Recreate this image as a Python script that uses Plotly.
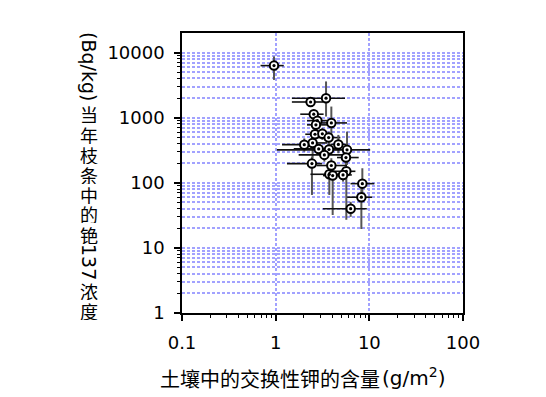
import plotly.graph_objects as go

# Exchangeable K in soil (g/m2) and Cs-137 in current-year shoots (Bq/kg)
x_vals = [0.96, 3.45, 2.36, 2.55, 2.79, 3.93, 2.69, 2.63, 3.15, 3.68, 2.48, 2.02, 4.67, 2.88,
          3.71, 5.78, 3.31, 5.63, 2.44, 3.93, 5.68, 3.74, 5.24, 4.06, 8.42, 8.22, 6.32]
y_vals = [6300, 1990, 1740, 1130, 900, 830, 775, 556, 565, 494, 409, 385, 388, 331,
          324, 320, 268, 244, 197, 184, 150, 135, 132, 129, 97, 60, 40]
x_low = [0.69, 1.49, 1.49, 1.83, 2.16, 2.88, 2.16, 2.07, 2.54, 2.76, 1.83, 1.17, 3.83, 1.56,
         2.76, 1.03, 1.76, 4.52, 1.32, 2.76, 4.16, 2.35, 3.83, 3.20, 6.30, 5.80, 3.20]
x_high = [1.22, 5.50, 3.20, 3.25, 3.53, 5.78, 3.53, 3.25, 3.53, 4.90, 3.53, 3.00, 5.78, 4.90,
          4.90, 10.2, 5.78, 7.70, 3.12, 5.78, 7.10, 4.90, 6.50, 5.30, 11.3, 10.7, 9.40]
y_low = [3800, 1040, 1480, 920, 770, 455, 650, 455, 455, 380, 238, 300, 284, 268,
         268, 188, 211, 188, 65, 140, 27, 65, 104, 32, 58, 19.5, 30]
y_high = [8700, 3600, 1990, 1320, 1040, 1480, 870, 650, 690, 610, 610, 480, 543, 405,
          405, 610, 339, 301, 252, 238, 177, 167, 167, 157, 167, 104, 51]

x_tick_vals = [0.1, 1, 10, 100]
x_tick_text = ["0.1", "1", "10", "100"]
y_tick_vals = [1, 10, 100, 1000, 10000]
y_tick_text = ["1", "10", "100", "1000", "10000"]

x_title_cjk = "土壤中的交换性钾的含量"
x_title_unit = "(g/m<sup>2</sup>)"
y_title_parts = ["(Bq/kg)", "当", "年", "枝", "条", "中", "的", "铯", "137", "浓", "度"]

# layout geometry (pixels)
W, H = 546, 397
L, R, T, B = 182, 83, 33, 84
PW, PH = W - L - R, H - T - B

def px_x(p):
    return (p - L) / PW

def px_y(p):
    return (H - B - p) / PH

minor_x = [m * 10 ** e for e in (-1, 0, 1) for m in range(2, 10)]
minor_y = [m * 10 ** e for e in (0, 1, 2, 3, 4) for m in range(2, 10) if m * 10 ** e < 20000]

grid_col = "#a2a2ff"
grid_dash = "3px,2px"
grid_w = 1.5
CJK = "Noto Sans CJK SC"
NUM = "DejaVu Sans"

fig = go.Figure()
fig.add_trace(go.Scatter(
    x=x_vals, y=y_vals, mode="markers",
    marker=dict(symbol="circle", size=8.5, color="white", line=dict(color="black", width=2)),
    error_x=dict(type="data", symmetric=False,
                 array=[h - v for h, v in zip(x_high, x_vals)],
                 arrayminus=[v - l for v, l in zip(x_vals, x_low)],
                 color="#111111", thickness=1.6, width=0),
    error_y=dict(type="data", symmetric=False,
                 array=[h - v for h, v in zip(y_high, y_vals)],
                 arrayminus=[v - l for v, l in zip(y_vals, y_low)],
                 color="#555555", thickness=2, width=0),
    showlegend=False, hoverinfo="skip"))
fig.add_trace(go.Scatter(
    x=x_vals, y=y_vals, mode="markers",
    marker=dict(symbol="circle", size=3.2, color="black"),
    showlegend=False, hoverinfo="skip"))

fig.update_xaxes(
    type="log", range=[-1, 2], tickvals=x_tick_vals, ticktext=x_tick_text,
    showgrid=True, gridcolor=grid_col, griddash=grid_dash, gridwidth=grid_w,
    ticks="outside", ticklen=6, tickwidth=1.5, tickcolor="black",
    showline=True, linecolor="black", linewidth=1.5, mirror=True, zeroline=False,
    ticklabelstandoff=7,
    tickfont=dict(family=NUM, size=18, color="black"),
    minor=dict(tickvals=minor_x, ticks="outside", ticklen=3, tickwidth=1.2,
               tickcolor="black", showgrid=False))
fig.update_yaxes(
    type="log", range=[0, 4.30], tickvals=y_tick_vals, ticktext=y_tick_text,
    showgrid=True, gridcolor=grid_col, griddash=grid_dash, gridwidth=grid_w,
    ticks="outside", ticklen=6, tickwidth=1.5, tickcolor="black",
    showline=True, linecolor="black", linewidth=1.5, mirror=True, zeroline=False,
    ticklabelstandoff=6,
    tickfont=dict(family=NUM, size=18, color="black"),
    minor=dict(tickvals=minor_y, ticks="outside", ticklen=3, tickwidth=1.2,
               tickcolor="black", showgrid=True, gridcolor=grid_col,
               griddash=grid_dash, gridwidth=grid_w))

annotations = [
    dict(text=x_title_cjk, xref="paper", yref="paper",
         x=px_x(382), y=px_y(378), xanchor="right", yanchor="middle",
         showarrow=False, font=dict(family=CJK, size=20, color="black")),
    dict(text=x_title_unit, xref="paper", yref="paper",
         x=px_x(380), y=px_y(377), xanchor="left", yanchor="middle",
         showarrow=False, font=dict(family=NUM, size=20, color="black")),
]

y_positions = [66, 114, 134, 154, 174, 194, 214, 234, 262, 290, 310]
for part, py in zip(y_title_parts, y_positions):
    rotated = part.isascii()
    annotations.append(dict(
        text=part, xref="paper", yref="paper", x=px_x(89), y=px_y(py),
        xanchor="center", yanchor="middle", showarrow=False,
        textangle=90 if rotated else 0,
        height=None if rotated else 19, borderpad=0,
        font=dict(family=NUM if rotated else CJK, size=19 if rotated else 18, color="black")))

fig.update_layout(
    width=W, height=H, margin=dict(l=L, r=R, t=T, b=B, autoexpand=False),
    paper_bgcolor="white", plot_bgcolor="white",
    annotations=annotations, showlegend=False)

fig.write_html("out.html", config={"displayModeBar": False},
               post_script="document.body.style.margin='0';document.body.style.padding='0';")
